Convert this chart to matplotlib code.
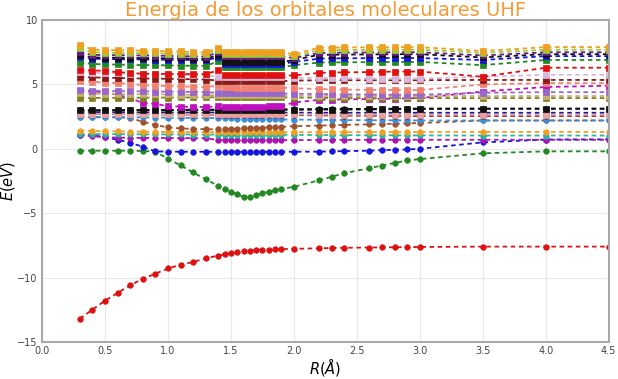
import matplotlib
matplotlib.use("Agg")
import matplotlib.pyplot as plt

# bond distance grid (Angstrom)
R = [0.3, 0.4, 0.5, 0.6, 0.7, 0.8, 0.9, 1.0, 1.1, 1.2, 1.3,
     1.40, 1.45, 1.50, 1.55, 1.60, 1.65, 1.70, 1.75, 1.80, 1.85, 1.90,
     2.0, 2.2, 2.3, 2.4, 2.6, 2.7, 2.8, 2.9, 3.0, 3.5, 4.0, 4.5]

# alpha orbitals (circles), eV
a_red = [-13.2, -12.5, -11.8, -11.2, -10.6, -10.1, -9.7, -9.3, -9.0, -8.8, -8.5,
         -8.3, -8.2, -8.1, -8.0, -7.96, -7.92, -7.88, -7.86, -7.84, -7.82, -7.8,
         -7.77, -7.73, -7.71, -7.69, -7.67, -7.66, -7.65, -7.64, -7.63, -7.6, -7.6, -7.6]
a_green = [-0.15, -0.15, -0.15, -0.15, -0.15, -0.17, -0.22, -0.78, -1.29, -1.84, -2.37,
           -2.88, -3.10, -3.32, -3.54, -3.74, -3.72, -3.56, -3.45, -3.35, -3.24, -3.13,
           -2.95, -2.45, -2.17, -1.9, -1.5, -1.3, -1.1, -0.9, -0.8, -0.35, -0.2, -0.2]
a_blue = [1.10, 1.04, 0.90, 0.70, 0.48, 0.15, -0.20, -0.22, -0.23, -0.23, -0.23,
          -0.23, -0.23, -0.23, -0.23, -0.23, -0.23, -0.23, -0.23, -0.23, -0.23, -0.23,
          -0.23, -0.22, -0.20, -0.18, -0.15, -0.10, -0.08, -0.05, 0.00, 0.50, 0.72, 0.73]
a_magenta = [1.05, 0.98, 0.90, 0.87, 0.85, 0.85, 0.84, 0.84, 0.83, 0.83, 0.82,
             0.68, 0.67, 0.66, 0.66, 0.66, 0.66, 0.66, 0.66, 0.67, 0.67, 0.67,
             0.68, 0.68, 0.69, 0.69, 0.70, 0.70, 0.70, 0.70, 0.70, 0.70, 0.70, 0.70]
a_teal = [1.15, 1.15, 1.14, 1.14, 1.13, 1.13, 1.12, 1.12, 1.12, 1.11, 1.11,
          1.10, 1.10, 1.10, 1.10, 1.10, 1.10, 1.10, 1.10, 1.10, 1.10, 1.10,
          1.08, 1.07, 1.06, 1.06, 1.05, 1.05, 1.05, 1.04, 1.04, 1.03, 1.03, 1.03]
a_orange = [1.41, 1.38, 1.36, 1.35, 1.34, 1.33, 1.32, 1.31, 1.30, 1.30, 1.29,
            1.29, 1.29, 1.29, 1.29, 1.29, 1.29, 1.29, 1.29, 1.29, 1.29, 1.29,
            1.29, 1.29, 1.29, 1.29, 1.30, 1.30, 1.30, 1.30, 1.30, 1.31, 1.31, 1.31]
a_brown = [2.45, 2.45, 2.45, 2.44, 2.40, 2.10, 1.84, 1.67, 1.58, 1.55, 1.52,
           1.50, 1.52, 1.54, 1.56, 1.58, 1.60, 1.62, 1.64, 1.66, 1.68, 1.70,
           1.76, 1.80, 1.83, 1.86, 1.90, 1.92, 1.95, 1.98, 2.00, 2.20, 2.20, 2.20]
a_steel = [2.50, 2.48, 2.47, 2.46, 2.45, 2.44, 2.43, 2.42, 2.41, 2.40, 2.40,
           2.38, 2.37, 2.36, 2.35, 2.34, 2.33, 2.32, 2.31, 2.30, 2.29, 2.28,
           2.27, 2.25, 2.24, 2.23, 2.22, 2.22, 2.21, 2.21, 2.20, 2.20, 2.20, 2.20]
a_maroon = [2.70, 2.70, 2.69, 2.69, 2.68, 2.68, 2.67, 2.67, 2.66, 2.66, 2.65,
            2.65, 2.65, 2.64, 2.64, 2.64, 2.63, 2.63, 2.63, 2.63, 2.62, 2.62,
            2.62, 2.60, 2.59, 2.58, 2.57, 2.56, 2.56, 2.55, 2.55, 2.55, 2.55, 2.55]
a_navy = [2.85, 2.85, 2.84, 2.84, 2.84, 2.83, 2.83, 2.83, 2.82, 2.82, 2.82,
          2.82, 2.82, 2.81, 2.81, 2.81, 2.81, 2.81, 2.81, 2.81, 2.81, 2.81,
          2.81, 2.80, 2.80, 2.80, 2.80, 2.80, 2.80, 2.80, 2.80, 2.80, 2.80, 2.80]
a_black = [3.00, 3.00, 3.00, 3.01, 3.01, 3.02, 3.02, 3.03, 3.03, 3.04, 3.04,
           3.05, 3.05, 3.05, 3.05, 3.05, 3.05, 3.06, 3.06, 3.06, 3.06, 3.07,
           3.08, 3.09, 3.10, 3.10, 3.10, 3.11, 3.12, 3.12, 3.13, 3.13, 3.13, 3.13]

# beta orbitals (squares), eV
b_orange = [8.10, 7.70, 7.68, 7.66, 7.65, 7.62, 7.60, 7.58, 7.56, 7.52, 7.50,
            7.85, 7.55, 7.52, 7.52, 7.52, 7.52, 7.52, 7.52, 7.52, 7.52, 7.52,
            7.35, 7.85, 7.85, 7.88, 7.88, 7.88, 7.90, 7.90, 7.90, 7.60, 7.90, 7.90]
b_lime = [7.80, 7.50, 7.48, 7.46, 7.45, 7.43, 7.42, 7.40, 7.38, 7.36, 7.35,
          7.70, 7.40, 7.38, 7.38, 7.38, 7.38, 7.38, 7.38, 7.38, 7.38, 7.38,
          7.20, 7.65, 7.66, 7.68, 7.68, 7.70, 7.70, 7.70, 7.70, 7.45, 7.70, 7.70]
b_purple = [7.50, 7.30, 7.28, 7.27, 7.26, 7.25, 7.24, 7.22, 7.20, 7.18, 7.16,
            7.50, 7.20, 7.18, 7.18, 7.18, 7.18, 7.18, 7.18, 7.18, 7.18, 7.18,
            7.05, 7.45, 7.46, 7.47, 7.48, 7.49, 7.50, 7.50, 7.50, 7.25, 7.50, 7.50]
b_black = [7.30, 7.10, 7.08, 7.07, 7.06, 7.05, 7.04, 7.03, 7.02, 7.00, 6.98,
           7.30, 6.75, 6.72, 6.72, 6.72, 6.72, 6.72, 6.72, 6.72, 6.72, 6.72,
           6.90, 7.30, 7.31, 7.32, 7.33, 7.34, 7.35, 7.35, 7.35, 7.10, 7.35, 7.35]
b_blue = [7.10, 7.00, 6.98, 6.96, 6.95, 6.94, 6.93, 6.92, 6.91, 6.90, 6.88,
          7.10, 6.60, 6.58, 6.58, 6.58, 6.58, 6.58, 6.58, 6.58, 6.58, 6.58,
          6.75, 7.00, 7.02, 7.03, 7.04, 7.05, 7.05, 7.05, 7.05, 6.90, 7.20, 7.20]
b_green = [6.70, 6.60, 6.55, 6.55, 6.52, 6.50, 6.50, 6.48, 6.46, 6.45, 6.44,
           6.80, 6.35, 6.33, 6.32, 6.32, 6.32, 6.32, 6.32, 6.32, 6.32, 6.32,
           6.50, 6.70, 6.71, 6.72, 6.73, 6.74, 6.75, 6.75, 6.75, 6.50, 6.90, 6.90]
b_red = [6.10, 6.08, 6.06, 5.95, 5.90, 5.83, 5.82, 5.82, 5.81, 5.80, 5.80,
         6.10, 5.75, 5.72, 5.70, 5.70, 5.70, 5.70, 5.70, 5.70, 5.70, 5.70,
         5.70, 5.90, 5.92, 5.94, 5.96, 5.98, 6.00, 6.00, 6.00, 5.60, 6.30, 6.30]
b_lavender = [5.96, 5.90, 5.88, 5.86, 5.84, 5.82, 5.80, 5.78, 5.76, 5.74, 5.72,
              5.60, 5.58, 5.56, 5.55, 5.55, 5.55, 5.55, 5.55, 5.55, 5.55, 5.55,
              5.50, 5.50, 5.48, 5.47, 5.46, 5.45, 5.45, 5.45, 5.45, 5.60, 5.75, 5.75]
b_darkred = [5.60, 5.55, 5.52, 5.50, 5.48, 5.46, 5.45, 5.44, 5.42, 5.40, 5.38,
             5.30, 5.28, 5.26, 5.25, 5.25, 5.25, 5.25, 5.25, 5.25, 5.25, 5.25,
             5.30, 5.32, 5.33, 5.33, 5.33, 5.33, 5.33, 5.33, 5.33, 5.35, 5.35, 5.35]
b_salmon = [5.30, 5.20, 5.15, 5.10, 5.05, 4.95, 4.90, 4.88, 4.85, 4.82, 4.80,
            4.90, 4.80, 4.78, 4.76, 4.75, 4.75, 4.75, 4.75, 4.75, 4.75, 4.75,
            4.70, 4.65, 4.62, 4.60, 4.58, 4.58, 4.57, 4.57, 4.57, 5.00, 5.10, 5.10]
b_violet = [4.57, 4.50, 4.50, 4.48, 4.47, 4.46, 4.45, 4.44, 4.43, 4.42, 4.40,
            4.35, 4.33, 4.32, 4.31, 4.30, 4.30, 4.30, 4.30, 4.30, 4.30, 4.30,
            4.28, 4.25, 4.24, 4.23, 4.22, 4.21, 4.20, 4.20, 4.20, 4.35, 4.40, 4.40]
b_tan = [4.30, 4.28, 4.27, 4.26, 4.25, 4.24, 4.23, 4.22, 4.21, 4.20, 4.19,
         4.15, 4.15, 4.15, 4.15, 4.15, 4.15, 4.15, 4.15, 4.15, 4.15, 4.15,
         4.12, 4.10, 4.10, 4.10, 4.10, 4.10, 4.10, 4.10, 4.10, 4.10, 4.10, 4.10]
b_olive = [3.94, 3.95, 3.96, 3.96, 3.97, 3.97, 3.98, 3.98, 3.99, 3.99, 4.00,
           4.00, 4.00, 4.00, 4.00, 4.00, 4.00, 4.00, 4.00, 4.00, 4.00, 4.00,
           3.98, 3.96, 3.95, 3.95, 3.94, 3.94, 3.94, 3.94, 3.94, 3.94, 3.94, 3.94]
b_magenta = [4.50, 4.45, 4.40, 4.20, 3.94, 3.56, 3.50, 3.30, 3.28, 3.26, 3.25,
             3.30, 3.28, 3.27, 3.27, 3.27, 3.28, 3.28, 3.28, 3.29, 3.29, 3.30,
             3.60, 3.80, 3.82, 3.84, 3.86, 3.88, 3.90, 3.92, 3.94, 4.45, 4.80, 4.90]
b_black2 = [2.98, 2.98, 2.98, 2.99, 2.99, 3.00, 3.00, 3.00, 3.01, 3.01, 3.01,
            3.02, 3.02, 3.02, 3.02, 3.02, 3.02, 3.02, 3.02, 3.02, 3.02, 3.02,
            3.03, 3.04, 3.05, 3.05, 3.06, 3.07, 3.08, 3.08, 3.09, 3.10, 3.10, 3.10]
b_pink = [2.72, 2.72, 2.71, 2.71, 2.70, 2.70, 2.70, 2.69, 2.69, 2.69, 2.68,
          2.68, 2.68, 2.68, 2.68, 2.68, 2.68, 2.68, 2.68, 2.68, 2.68, 2.68,
          2.67, 2.66, 2.66, 2.65, 2.65, 2.65, 2.65, 2.64, 2.64, 2.64, 2.64, 2.64]

circles = [(a_red, '#dd1111'), (a_green, '#228822'), (a_blue, '#1515dd'),
           (a_magenta, '#b012b0'), (a_teal, '#26b5a5'), (a_orange, '#f0a020'),
           (a_brown, '#a0522d'), (a_steel, '#3a8fd8'), (a_maroon, '#8b1a1a'),
           (a_navy, '#1a1aa0'), (a_black, '#111111')]
squares = [(b_pink, '#e8a0a0'), (b_black2, '#111111'), (b_magenta, '#bf10bf'),
           (b_olive, '#808020'), (b_tan, '#c8b070'), (b_violet, '#9966cc'),
           (b_salmon, '#f08070'), (b_darkred, '#8b1a1a'), (b_lavender, '#d8b8d8'),
           (b_red, '#e01010'), (b_green, '#228822'), (b_blue, '#1515dd'),
           (b_black, '#111111'), (b_purple, '#6a1a8a'), (b_lime, '#9acd32'),
           (b_orange, '#f0a020')]

fig = plt.figure(figsize=(6.18, 3.79), dpi=100)
ax = fig.add_axes([0.068, 0.098, 0.917, 0.849])

for vals, c in circles:
    ax.plot(R, vals, '--', color=c, marker='o', markersize=4, lw=1.3,
            dashes=(2.5, 2), markeredgecolor=c, markeredgewidth=0.5)
for vals, c in squares:
    ax.plot(R, vals, '--', color=c, marker='s', markersize=4.4, lw=1.3,
            dashes=(2.5, 2), markeredgecolor=c, markeredgewidth=0.5)

ax.set_xlim(0, 4.5)
ax.set_ylim(-15, 10)
ax.set_xticks([0.0, 0.5, 1.0, 1.5, 2.0, 2.5, 3.0, 3.5, 4.0, 4.5])
ax.set_yticks([-15, -10, -5, 0, 5, 10])
ax.grid(True, color='#e8e8e8', lw=0.8)
ax.set_axisbelow(True)
ax.tick_params(length=0, labelsize=7, colors='#444444', pad=3)
for s in ax.spines.values():
    s.set_color('#aaaaaa')
    s.set_linewidth(1.5)

ax.set_title('Energia de los orbitales moleculares UHF', color='#f39c35',
             fontsize=14, pad=1)
ax.set_xlabel(r'$R(\AA)$', fontsize=10.5, labelpad=0)
ax.set_ylabel(r'$E(eV)$', fontsize=10.5, labelpad=0)

fig.savefig('out.png', dpi=100)
